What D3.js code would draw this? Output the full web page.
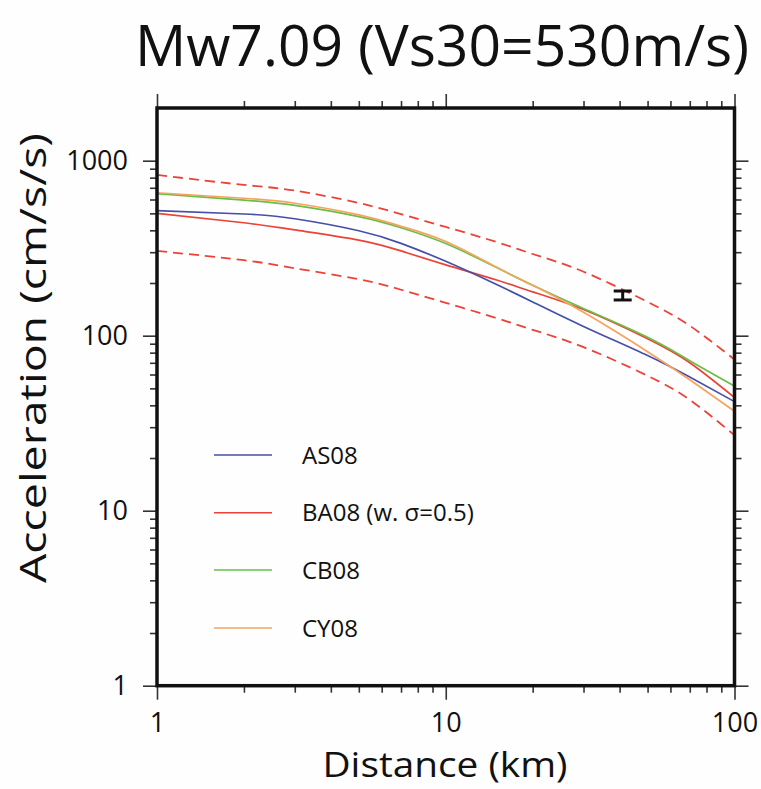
<!DOCTYPE html>
<html>
<head>
<meta charset="utf-8">
<script src="https://cdn.jsdelivr.net/npm/d3@7"></script>
<style>
  html, body { margin: 0; padding: 0; background: #fefefe; }
  svg { display: block; font-family: "Open Sans", "Noto Sans", sans-serif; }
</style>
</head>
<body>
<svg id="chart" width="761" height="789"></svg>
<script>
// ---- data ----
const distances = [1, 2, 3, 5, 7, 10, 15, 20, 30, 50, 70, 100];
const as08  = [518, 496, 466, 398, 337, 266, 196, 156, 113, 77, 58, 42];
const ba08  = [500, 442, 402, 352, 305, 254, 208, 178, 141, 96, 70, 44.3];
const cb08  = [648, 595, 555, 479, 414, 336, 245, 194, 143, 98, 72, 51.6];
const cy08  = [656, 610, 571, 490, 422, 345, 246, 194, 136, 81, 56, 37];
const baUpper = [829, 727, 675, 573, 495, 418, 343, 293, 232, 156, 114, 73];
const baLower = [305, 270, 243, 210, 183, 154, 126, 108, 86, 59, 43, 27];
const obsDist = [41];
const obsLow  = [160];
const obsHigh = [180];
const seriesNames = ["AS08", "BA08 (w. σ=0.5)", "CB08", "CY08"];
const seriesColors = ["#4550a6", "#ec4338", "#6cbd47", "#f6a35e"];
const xMajor = [1, 10, 100];
const xMinor = [2,3,4,5,6,7,8,9,20,30,40,50,60,70,80,90];
const yMajor = [1, 10, 100, 1000];
const yMinor = [2,3,4,5,6,7,8,9,20,30,40,50,60,70,80,90,200,300,400,500,600,700,800,900];
const titleText = "Mw7.09 (Vs30=530m/s)";
const xTitle = "Distance (km)";
const yTitle = "Acceleration (cm/s/s)";

// ---- layout ----
const svg = d3.select("#chart");
const L = 157, R = 734.5, T = 108, B = 685.7;
const x = d3.scaleLog().domain([1, 100]).range([L, R]);
const y = d3.scaleLog().domain([1, 2000]).range([B, T]);

const tickColor = "#333";
function drawAxis(gen, transform, values, size, labels) {
  const g = svg.append("g").attr("transform", transform)
    .call(gen.tickValues(values).tickSize(size).tickSizeOuter(0)
      .tickFormat(labels ? d3.format("d") : () => "").tickPadding(labels ? labels : 3));
  g.select(".domain").remove();
  g.selectAll(".tick line").attr("stroke", tickColor).attr("stroke-width", 1.6);
  g.selectAll(".tick text").attr("font-size", 27).attr("fill", "#111")
    .attr("font-family", "'Open Sans', sans-serif");
  return g;
}
// bottom
drawAxis(d3.axisBottom(x), `translate(0,${B})`, xMajor, 14, 13);
drawAxis(d3.axisBottom(x), `translate(0,${B})`, xMinor, 7, null);
// top
drawAxis(d3.axisTop(x), `translate(0,${T})`, xMajor, 14, null);
drawAxis(d3.axisTop(x), `translate(0,${T})`, xMinor, 7, null);
// left
drawAxis(d3.axisLeft(y), `translate(${L},0)`, yMajor, 14, 15);
drawAxis(d3.axisLeft(y), `translate(${L},0)`, yMinor, 7, null);
// right
drawAxis(d3.axisRight(y), `translate(${R},0)`, yMajor, 14, null);
drawAxis(d3.axisRight(y), `translate(${R},0)`, yMinor, 7, null);

// clip
svg.append("clipPath").attr("id", "plotclip")
  .append("rect").attr("x", L).attr("y", T).attr("width", R - L).attr("height", B - T);

const line = d3.line().x((d, i) => x(distances[i])).y(d => y(d)).curve(d3.curveNatural);
const plot = svg.append("g").attr("clip-path", "url(#plotclip)");

plot.append("path").datum(baUpper).attr("d", line).attr("fill", "none")
  .attr("stroke", seriesColors[1]).attr("stroke-width", 1.8).attr("stroke-dasharray", "10,6");
plot.append("path").datum(baLower).attr("d", line).attr("fill", "none")
  .attr("stroke", seriesColors[1]).attr("stroke-width", 1.8).attr("stroke-dasharray", "10,6");

const seriesData = [as08, ba08, cb08, cy08];
// draw order: red, blue, green, orange
[1, 0, 2, 3].forEach(k => {
  plot.append("path").datum(seriesData[k]).attr("d", line).attr("fill", "none")
    .attr("stroke", seriesColors[k]).attr("stroke-width", 1.7);
});

// observation error bar
obsDist.forEach((d, i) => {
  const cx = x(d), y1 = y(obsHigh[i]), y2 = y(obsLow[i]);
  const g = svg.append("g").attr("stroke", "#111").attr("stroke-width", 3);
  g.append("line").attr("x1", cx).attr("x2", cx).attr("y1", y1).attr("y2", y2);
  g.append("line").attr("x1", cx - 9).attr("x2", cx + 9).attr("y1", y1).attr("y2", y1);
  g.append("line").attr("x1", cx - 9).attr("x2", cx + 9).attr("y1", y2).attr("y2", y2);
});

// frame
svg.append("rect").attr("x", L).attr("y", T).attr("width", R - L).attr("height", B - T)
  .attr("fill", "none").attr("stroke", "#111").attr("stroke-width", 3.5);

// legend
const legY = [455, 512.7, 570, 628];
seriesNames.forEach((name, i) => {
  svg.append("line").attr("x1", 214).attr("x2", 272).attr("y1", legY[i]).attr("y2", legY[i])
    .attr("stroke", seriesColors[i]).attr("stroke-width", 1.6);
  svg.append("text").attr("x", 302).attr("y", legY[i] + 8.5).attr("font-size", 24)
    .attr("fill", "#111").text(name);
});

// titles
svg.append("text").attr("x", 442).attr("y", 66).attr("text-anchor", "middle")
  .attr("font-size", 57).attr("fill", "#111").text(titleText);
svg.append("text").attr("x", 445).attr("y", 777).attr("text-anchor", "middle")
  .attr("font-size", 35).attr("fill", "#111")
  .attr("textLength", 245).attr("lengthAdjust", "spacingAndGlyphs").text(xTitle);
svg.append("text").attr("transform", "translate(46,358) rotate(-90)").attr("text-anchor", "middle")
  .attr("font-size", 36).attr("fill", "#111")
  .attr("textLength", 450).attr("lengthAdjust", "spacingAndGlyphs").text(yTitle);
</script>
</body>
</html>
